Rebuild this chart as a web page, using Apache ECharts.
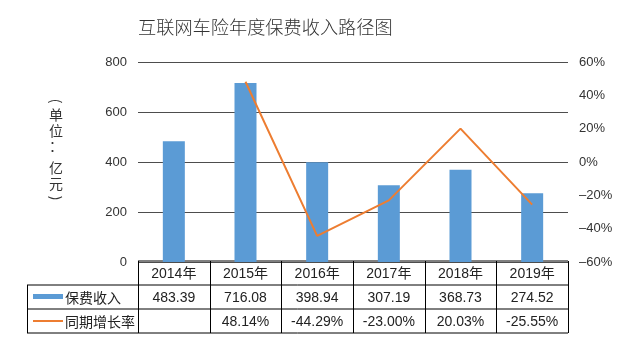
<!DOCTYPE html>
<html><head><meta charset="utf-8">
<script src="https://cdn.jsdelivr.net/npm/echarts@6/dist/echarts.min.js"></script>
<style>html,body{margin:0;padding:0;background:#fff}#c{width:620px;height:342px}</style>
</head><body><div id="c"></div>
<script>
var categories = ['2014年','2015年','2016年','2017年','2018年','2019年'];
var premium = [483.39, 716.08, 398.94, 307.19, 368.73, 274.52];
var growth = [null, 48.14, -44.29, -23.00, 20.03, -25.55];
var premiumLabels = ['483.39','716.08','398.94','307.19','368.73','274.52'];
var growthLabels = ['','48.14%','-44.29%','-23.00%','20.03%','-25.55%'];
var seriesNames = ['保费收入','同期增长率'];
var unitChars = ['单','位','：','亿','元'];

var FONT = "'Liberation Sans','Noto Sans CJK SC',sans-serif";
var CJK = "'Noto Sans CJK SC',sans-serif";
var chart = echarts.init(document.getElementById('c'));
var gridLeft = 138, gridRight = 52, gridTop = 62, gridH = 200;
chart.setOption({
  animation:false,
  title:{text:'互联网车险年度保费收入路径图',left:133,top:13,
    textStyle:{fontFamily:CJK,fontWeight:300,fontSize:18.2,color:'#333'}},
  grid:{left:gridLeft,right:gridRight,top:gridTop,height:gridH},
  xAxis:{type:'category',data:categories,axisLine:{show:false},axisTick:{show:false},
    axisLabel:{show:false}},
  yAxis:[
    {type:'value',min:0,max:800,interval:200,axisLine:{show:false},axisTick:{show:false},
      splitLine:{lineStyle:{color:'#4d4d4d',width:1}},
      axisLabel:{margin:11,fontSize:13,color:'#333',fontFamily:FONT}},
    {type:'value',min:-60,max:60,interval:20,axisLine:{show:false},axisTick:{show:false},
      splitLine:{show:false},
      axisLabel:{margin:11,fontSize:13,color:'#333',fontFamily:FONT,
        formatter:function(v){return (v<0?'–'+(-v):v)+'%';}}}
  ],
  series:[
    {name:seriesNames[0],type:'bar',data:premium,barWidth:22,itemStyle:{color:'#5B9BD5'},z:3},
    {name:seriesNames[1],type:'line',yAxisIndex:1,data:growth,symbol:'none',
      lineStyle:{color:'#ED7D31',width:2},itemStyle:{color:'#ED7D31'},z:4}
  ]
});

var els = [];
var x0 = gridLeft, x1 = 620 - gridRight;
var colW = (x1 - x0) / categories.length;
var tTop = gridTop + gridH - 1, rowH = 24;
var lineStyle = {stroke:'#000',lineWidth:1};
els.push({type:'line',shape:{x1:x0,y1:tTop,x2:x1,y2:tTop},style:lineStyle});
for (var r=1;r<=3;r++){
  els.push({type:'line',shape:{x1:27,y1:tTop+r*rowH,x2:x1,y2:tTop+r*rowH},style:lineStyle});
}
els.push({type:'line',shape:{x1:27.5,y1:tTop+rowH,x2:27.5,y2:tTop+3*rowH},style:lineStyle});
for (var i=0;i<=categories.length;i++){
  var xx = Math.round(x0 + i*colW)+0.5;
  els.push({type:'line',shape:{x1:xx,y1:tTop,x2:xx,y2:tTop+3*rowH},style:lineStyle});
}
var ts = {fontSize:14,fill:'#222',fontFamily:FONT,align:'center',verticalAlign:'middle'};
for (var i=0;i<categories.length;i++){
  var cx = chart.convertToPixel({xAxisIndex:0}, categories[i]);
  els.push({type:'text',x:cx,y:tTop+rowH/2+1,style:Object.assign({},ts,{text:categories[i]})});
  els.push({type:'text',x:cx,y:tTop+rowH*1.5+1,style:Object.assign({},ts,{text:premiumLabels[i]})});
  els.push({type:'text',x:cx,y:tTop+rowH*2.5+1,style:Object.assign({},ts,{text:growthLabels[i]})});
}
els.push({type:'rect',shape:{x:33,y:tTop+rowH*1.5-3,width:30,height:5},style:{fill:'#5B9BD5'}});
els.push({type:'text',x:65,y:tTop+rowH*1.5+1,style:Object.assign({},ts,{text:seriesNames[0],align:'left',fontSize:14,fontFamily:CJK})});
els.push({type:'line',shape:{x1:33,y1:tTop+rowH*2.5,x2:63,y2:tTop+rowH*2.5},style:{stroke:'#ED7D31',lineWidth:2}});
els.push({type:'text',x:65,y:tTop+rowH*2.5+1,style:Object.assign({},ts,{text:seriesNames[1],align:'left',fontSize:14,fontFamily:CJK})});
var us = {fontSize:14,fill:'#333',fontFamily:CJK,align:'center',verticalAlign:'middle'};
els.push({type:'text',x:56,y:101,rotation:-Math.PI/2,style:Object.assign({},us,{text:'('})});
var uy = [115,131,146,168,184];
for (var k=0;k<unitChars.length;k++){
  els.push({type:'text',x:56,y:uy[k],style:Object.assign({},us,{text:unitChars[k]})});
}
els.push({type:'text',x:56,y:198,rotation:-Math.PI/2,style:Object.assign({},us,{text:')'})});
chart.setOption({graphic:els});
</script></body></html>
